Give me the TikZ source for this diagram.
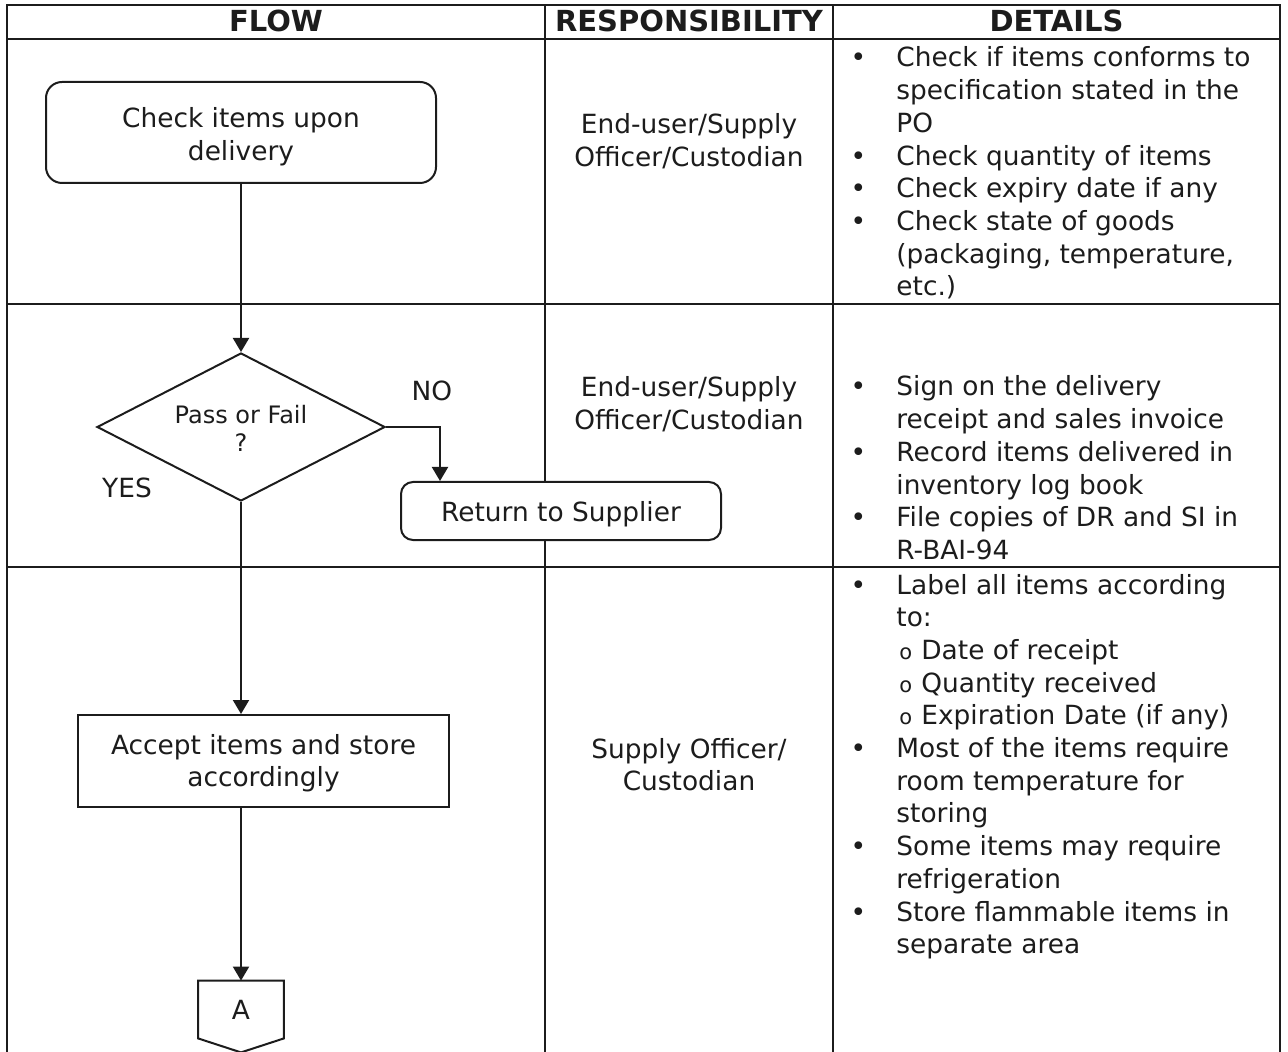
\documentclass[tikz,border=0pt]{standalone}
\usepackage{fontspec}
\setmainfont{DejaVu Sans}
\usetikzlibrary{shapes.geometric,arrows.meta,calc}
\definecolor{ink}{RGB}{28,28,28}
\newcommand\bodyfont{\fontsize{13.2}{16.35}\selectfont}
\newcommand\bul{\makebox[22.5pt][l]{\makebox[7pt]{•}}}
\newcommand\ind{\hspace*{22.5pt}}
\newcommand\subo{\hspace*{24pt}\makebox[11pt][l]{\fontsize{10.5}{10.5}\selectfont o}}
\newcommand\dropby[2]{\raisebox{0pt}[\dimexpr\height+#1\relax]{#2}}
\begin{document}
\begin{tikzpicture}[x={(0.5pt,0)},y={(0,-0.5pt)},
  every node/.style={text=ink, font=\bodyfont, inner sep=0pt},
  grid/.style={draw=ink, line width=0.75pt},
  flow/.style={draw=ink, line width=1pt, -{Triangle[length=7pt,width=8pt]}},
  rbox/.style={draw=ink, line width=1pt, rounded corners=8pt, fill=white},
  sbox/.style={draw=ink, line width=1pt, fill=white},
  hdr/.style={font=\bfseries\fontsize{14.5}{17}\selectfont, anchor=base},
  cell/.style={anchor=base west},
  resp/.style={anchor=base}]
\path[use as bounding box] (0,0) rectangle (1288,1052);

% table grid
\draw[grid] (7,1052) -- (7,5) -- (1280,5) -- (1280,1052);
\draw[grid] (7,39) -- (1280,39);
\draw[grid] (7,304) -- (1280,304);
\draw[grid] (7,567) -- (1280,567);
\draw[grid] (545,5) -- (545,1052);
\draw[grid] (833,5) -- (833,1052);

% headers
\node[hdr] (hflow) at (276,32) {FLOW};
\node[hdr] (hresp) at (689,32) {RESPONSIBILITY};
\node[hdr] (hdet) at (1056.5,32) {DETAILS};

% flow
\node[rbox, minimum width=195pt, minimum height=50.5pt] (check) at (241,132.5)
  {\dropby{5pt}{\begin{tabular}{@{}c@{}}Check items upon\\delivery\end{tabular}}};
\node[draw=ink, line width=1pt, shape=diamond, aspect=1.95, minimum width=144pt,
  minimum height=74pt, font=\fontsize{12}{14}\selectfont] (dia) at (241,427)
  {\dropby{5pt}{\begin{tabular}{@{}c@{}}Pass or Fail\\?\end{tabular}}};
\node[rbox, rounded corners=6pt, minimum width=160pt, minimum height=29pt, text depth=0pt] (ret) at (561,511)
  {Return to Supplier};
\node[sbox, minimum width=185.5pt, minimum height=46pt] (acc) at (263.5,761)
  {\dropby{3pt}{\begin{tabular}{@{}c@{}}Accept items and store\\accordingly\end{tabular}}};
\node[minimum width=42.5pt, minimum height=28.5pt] (offA) at (241,1009.5) {A};
\draw[draw=ink, line width=1pt] (offA.north west) -- (offA.north east) -- (offA.south east)
  -- ($(offA.south)+(0,14)$) -- (offA.south west) -- cycle;

\node (no) at (432,391) {NO};
\node (yes) at (127,488) {YES};

\draw[flow] (check.south) -- (dia.north);
\draw[flow] (dia.east) -| ($(ret.north west)+(40,0)$);
\draw[flow] (dia.south) -- (dia.south |- acc.north);
\draw[flow] (dia.south |- acc.south) -- (offA.north);

% responsibility
\node[resp] (r1) at (689,134) {\begin{tabular}[t]{@{}c@{}}End-user/Supply\\Officer/Custodian\end{tabular}};
\node[resp] (r2) at (689,397) {\begin{tabular}[t]{@{}c@{}}End-user/Supply\\Officer/Custodian\end{tabular}};
\node[resp] (r3) at (689,758) {\begin{tabular}[t]{@{}c@{}}Supply Officer/\\Custodian\end{tabular}};

% details
\node[cell] (d1) at (851,67) {\begin{tabular}[t]{@{}l@{}}
\bul Check if items conforms to\\
\ind specification stated in the\\
\ind PO\\
\bul Check quantity of items\\
\bul Check expiry date if any\\
\bul Check state of goods\\
\ind (packaging, temperature,\\
\ind etc.)
\end{tabular}};
\node[cell] (d2) at (851,396) {\begin{tabular}[t]{@{}l@{}}
\bul Sign on the delivery\\
\ind receipt and sales invoice\\
\bul Record items delivered in\\
\ind inventory log book\\
\bul File copies of DR and SI in\\
\ind R-BAI-94
\end{tabular}};
\node[cell] (d3) at (851,594) {\begin{tabular}[t]{@{}l@{}}
\bul Label all items according\\
\ind to:\\
\subo Date of receipt\\
\subo Quantity received\\
\subo Expiration Date (if any)\\
\bul Most of the items require\\
\ind room temperature for\\
\ind storing\\
\bul Some items may require\\
\ind refrigeration\\
\bul Store flammable items in\\
\ind separate area
\end{tabular}};
\end{tikzpicture}
\end{document}
